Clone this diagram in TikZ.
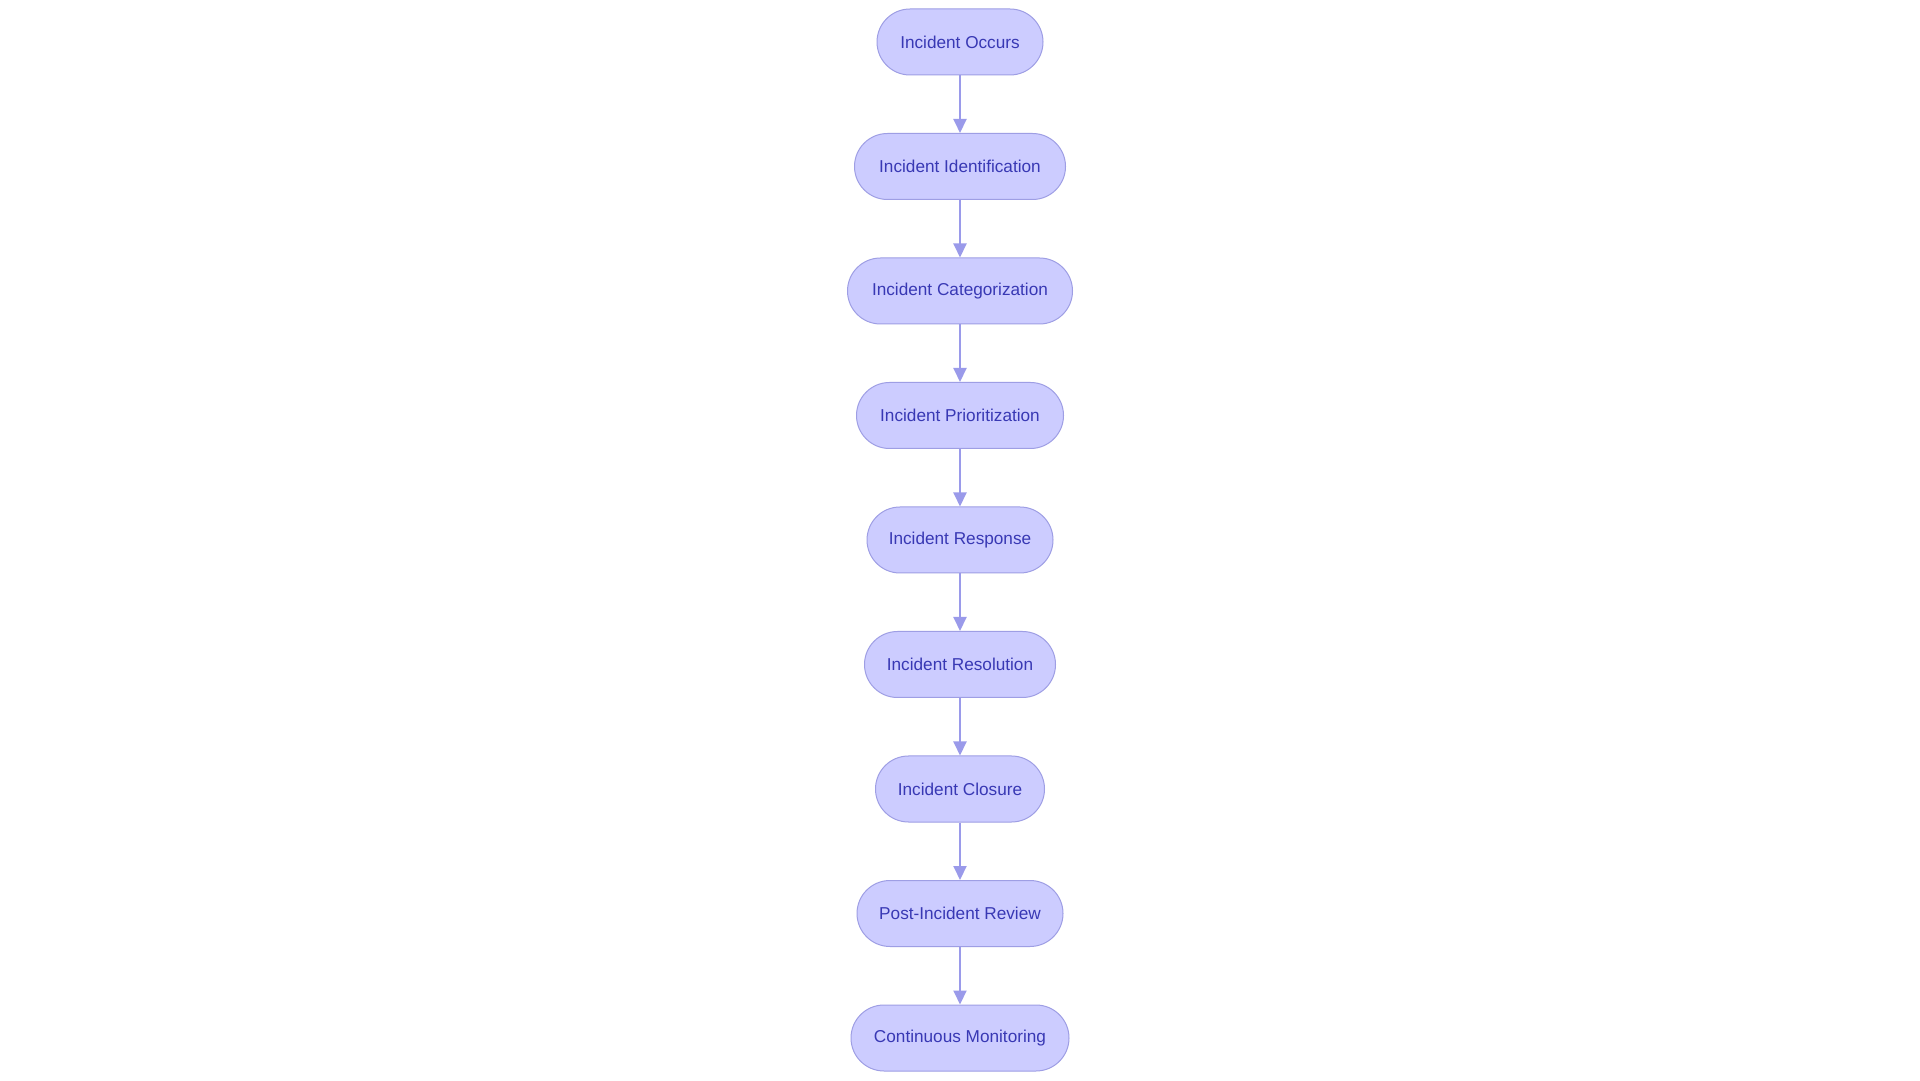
\documentclass[tikz,border=0pt]{standalone}
\usepackage{fontspec}
\setmainfont{Liberation Sans}
\usetikzlibrary{arrows.meta}
\definecolor{pillfill}{HTML}{CCCCFF}
\definecolor{pillline}{HTML}{9E9EE4}
\definecolor{pilltext}{HTML}{3838B4}
\definecolor{arrowcol}{HTML}{9A9AEA}
\begin{document}
\begin{tikzpicture}[x=1pt,y=1pt,
  pill/.style={draw=pillline, fill=pillfill, line width=1pt, rounded corners=33pt,
    minimum height=66pt, inner sep=0pt, text=pilltext,
    font=\fontsize{17.2}{20}\selectfont},
  flow/.style={draw=arrowcol, line width=2pt, -{Triangle[length=14pt,width=13pt]}}]
\fill[white] (0,0) rectangle (1920,1080);
\useasboundingbox (0,0) rectangle (1920,1080);
\node[pill, minimum width=166pt] (n1) at (960,1038) {Incident Occurs};
\node[pill, minimum width=211pt] (n2) at (960,913.5) {Incident Identification};
\node[pill, minimum width=225pt] (n3) at (960,789) {Incident Categorization};
\node[pill, minimum width=207pt] (n4) at (960,664.5) {Incident Prioritization};
\node[pill, minimum width=186pt] (n5) at (960,540) {Incident Response};
\node[pill, minimum width=191pt] (n6) at (960,415.5) {Incident Resolution};
\node[pill, minimum width=169pt] (n7) at (960,291) {Incident Closure};
\node[pill, minimum width=206pt] (n8) at (960,166.5) {Post-Incident Review};
\node[pill, minimum width=218pt] (n9) at (960,42) {Continuous Monitoring};
\foreach \a/\b in {n1/n2,n2/n3,n3/n4,n4/n5,n5/n6,n6/n7,n7/n8,n8/n9}
  \draw[flow] (\a.south) -- (\b.north);
\end{tikzpicture}
\end{document}
